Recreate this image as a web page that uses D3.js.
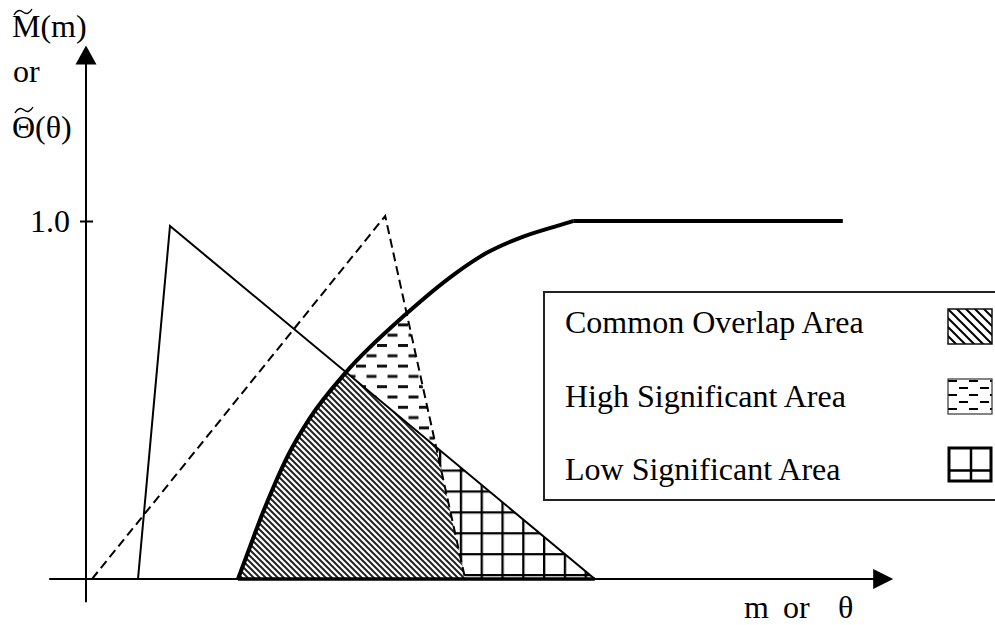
<!DOCTYPE html>
<html>
<head>
<meta charset="utf-8">
<script src="https://cdn.jsdelivr.net/npm/d3@7"></script>
<style>
  html, body { margin: 0; padding: 0; background: #fff; }
  svg { display: block; }
  text { font-family: "Liberation Serif", "Times New Roman", serif; fill: #000; }
</style>
</head>
<body>
<div id="chart"></div>
<script>
// ---------- data ----------
// membership function M~(m): solid triangle
const solidX = [6.5, 10.5, 63.6];
const solidY = [0, 0.986, 0];
// membership function Theta~(theta): dashed triangle
const dashX = [0.75, 37.4, 47.4];
const dashY = [0, 1.014, 0];
// rising thick curve
const curveX = [19.0, 20.5, 21.75, 23.4, 25.25, 28.0, 32.4, 40.0, 45.9, 50.1, 54.25, 58.4, 60.9];
const curveY = [0, 0.09, 0.165, 0.255, 0.345, 0.45, 0.575, 0.74, 0.849, 0.911, 0.953, 0.983, 1.0];
// plateau of thick curve
const plateauX = [60.9, 94.6];
const plateauY = [1.0, 1.0];
// axis ticks
const yTickValues = [1.0];
const yTickLabels = ["1.0"];
// legend
const legendLabels = ["Common Overlap Area", "High Significant Area", "Low Significant Area"];

// ---------- layout ----------
const W = 995, H = 625;
const x = d3.scaleLinear().domain([0, 100]).range([86, 886]);
const y = d3.scaleLinear().domain([0, 1]).range([579, 221]);
const FONT = 32;

const svg = d3.select("#chart").append("svg").attr("width", W).attr("height", H);
const defs = svg.append("defs");

// patterns
const pDiag = defs.append("pattern").attr("id", "diag").attr("patternUnits", "userSpaceOnUse")
  .attr("width", 6).attr("height", 6);
pDiag.append("path").attr("d", "M-1,-1L7,7M-1,5L1,7M5,-1L7,1")
  .attr("stroke", "#222").attr("stroke-width", 2);

const pDiagL = defs.append("pattern").attr("id", "diagL").attr("patternUnits", "userSpaceOnUse")
  .attr("x", 948).attr("y", 309).attr("width", 9).attr("height", 9);
pDiagL.append("path").attr("d", "M-1,-1L10,10M-1,8L1,10M8,-1L10,1")
  .attr("stroke", "#000").attr("stroke-width", 2);

const pDash = defs.append("pattern").attr("id", "dash").attr("patternUnits", "userSpaceOnUse")
  .attr("x", 377).attr("y", 344).attr("width", 21).attr("height", 20.6);
pDash.append("rect").attr("x", 0).attr("y", 0).attr("width", 10).attr("height", 3).attr("fill", "#111");
pDash.append("rect").attr("x", 10.5).attr("y", 10.3).attr("width", 10).attr("height", 3).attr("fill", "#111");

const pDashL = defs.append("pattern").attr("id", "dashL").attr("patternUnits", "userSpaceOnUse")
  .attr("x", 950).attr("y", 387).attr("width", 21).attr("height", 14);
pDashL.append("rect").attr("x", 9).attr("y", 0).attr("width", 9).attr("height", 2).attr("fill", "#000");
pDashL.append("rect").attr("x", -2).attr("y", 7).attr("width", 9).attr("height", 2).attr("fill", "#000");
pDashL.append("rect").attr("x", 19).attr("y", 7).attr("width", 9).attr("height", 2).attr("fill", "#000");

const pGrid = defs.append("pattern").attr("id", "grid").attr("patternUnits", "userSpaceOnUse")
  .attr("x", 439).attr("y", 469.5).attr("width", 20.8).attr("height", 20.9);
pGrid.append("path").attr("d", "M1,0V20.9M0,1H20.8")
  .attr("stroke", "#000").attr("stroke-width", 2.6);

// shapes
const tri = (xs, ys) => d3.line().x((d, i) => x(xs[i])).y((d, i) => y(ys[i]))(xs) + "Z";
const solidPath = tri(solidX, solidY);
const dashPath = tri(dashX, dashY);
const curveLine = d3.line().curve(d3.curveMonotoneX).x((d, i) => x(curveX[i])).y((d, i) => y(curveY[i]));
const curveArea = d3.area().curve(d3.curveMonotoneX).x((d, i) => x(curveX[i])).y0(y(0)).y1((d, i) => y(curveY[i]));
const plateauLine = d3.line().x((d, i) => x(plateauX[i])).y((d, i) => y(plateauY[i]));

// clip paths
const cCurve = defs.append("clipPath").attr("id", "cCurve");
cCurve.append("path").attr("d", curveArea(curveX));
cCurve.append("rect").attr("x", x(plateauX[0]) - 0.5).attr("y", y(1)).attr("width", x(plateauX[1]) - x(plateauX[0]) + 0.5).attr("height", y(0) - y(1));
defs.append("clipPath").attr("id", "cSolid").append("path").attr("d", solidPath);
defs.append("clipPath").attr("id", "cDash").append("path").attr("d", dashPath);
const mNoSolid = defs.append("mask").attr("id", "mNoSolid").attr("maskUnits", "userSpaceOnUse")
  .attr("x", 0).attr("y", 0).attr("width", W).attr("height", H);
mNoSolid.append("rect").attr("width", W).attr("height", H).attr("fill", "#fff");
mNoSolid.append("path").attr("d", solidPath).attr("fill", "#000");
const mNoDash = defs.append("mask").attr("id", "mNoDash").attr("maskUnits", "userSpaceOnUse")
  .attr("x", 0).attr("y", 0).attr("width", W).attr("height", H);
mNoDash.append("rect").attr("width", W).attr("height", H).attr("fill", "#fff");
mNoDash.append("path").attr("d", dashPath).attr("fill", "#000");

// hatched areas
svg.append("g").attr("clip-path", "url(#cCurve)")
  .append("g").attr("clip-path", "url(#cSolid)")
  .append("rect").attr("clip-path", "url(#cDash)").attr("width", W).attr("height", H).attr("fill", "url(#diag)");
svg.append("g").attr("clip-path", "url(#cCurve)")
  .append("g").attr("clip-path", "url(#cDash)")
  .append("rect").attr("mask", "url(#mNoSolid)").attr("width", W).attr("height", H).attr("fill", "url(#dash)");
svg.append("g").attr("clip-path", "url(#cSolid)")
  .append("g").attr("clip-path", "url(#cCurve)")
  .append("rect").attr("mask", "url(#mNoDash)").attr("width", W).attr("height", H).attr("fill", "url(#grid)");

// axes
const xAxisStart = -4.6, xAxisTip = 100.9;
const yAxisBottom = -0.065, yAxisTip = 1.49;
svg.append("line").attr("x1", x(xAxisStart)).attr("x2", x(xAxisTip) - 18).attr("y1", y(0)).attr("y2", y(0))
  .attr("stroke", "#000").attr("stroke-width", 2);
svg.append("path").attr("d", `M${x(xAxisTip)},${y(0)}L${x(xAxisTip) - 20},${y(0) - 10}L${x(xAxisTip) - 20},${y(0) + 10}Z`).attr("fill", "#000");
svg.append("line").attr("x1", x(0)).attr("x2", x(0)).attr("y1", y(yAxisBottom)).attr("y2", y(yAxisTip) + 18)
  .attr("stroke", "#000").attr("stroke-width", 2);
svg.append("path").attr("d", `M${x(0)},${y(yAxisTip)}L${x(0) - 10.5},${y(yAxisTip) + 19}L${x(0) + 10.5},${y(yAxisTip) + 19}Z`).attr("fill", "#000");

const yAxis = d3.axisLeft(y).tickValues(yTickValues).tickSize(6).tickPadding(10)
  .tickFormat((d, i) => yTickLabels[i]);
const gy = svg.append("g").attr("transform", `translate(${x(0)},0)`).call(yAxis);
gy.select(".domain").remove();
gy.selectAll(".tick line").attr("stroke", "#000").attr("stroke-width", 2).attr("x2", 7).attr("x1", -6);
gy.selectAll(".tick text").attr("font-family", "Liberation Serif, Times New Roman, serif").attr("font-size", FONT).attr("fill", "#000");

// thick base under the regions
svg.append("line").attr("x1", x(curveX[0])).attr("x2", x(solidX[2])).attr("y1", y(0)).attr("y2", y(0))
  .attr("stroke", "#000").attr("stroke-width", 3.5);

// triangles
svg.append("path").attr("d", solidPath).attr("fill", "none").attr("stroke", "#000").attr("stroke-width", 2).attr("stroke-linejoin", "miter");
svg.append("path").attr("d", dashPath).attr("fill", "none").attr("stroke", "#000").attr("stroke-width", 2).attr("stroke-dasharray", "9,5");

// thick curve
svg.append("path").attr("d", curveLine(curveX)).attr("fill", "none").attr("stroke", "#000").attr("stroke-width", 4);
svg.append("path").attr("d", plateauLine(plateauX)).attr("fill", "none").attr("stroke", "#000").attr("stroke-width", 4);

// axis titles
svg.append("text").attr("x", 12).attr("y", 37).attr("font-size", FONT).text("M(m)");
svg.append("path").attr("d", "M14,15 Q18,8 23,12 T32,9").attr("fill", "none").attr("stroke", "#000").attr("stroke-width", 1.4);
svg.append("text").attr("x", 13).attr("y", 82).attr("font-size", FONT).text("or");
svg.append("text").attr("x", 12).attr("y", 138).attr("font-size", FONT).text("Θ(θ)");
svg.append("path").attr("d", "M15,113 Q19,106 24,110 T33,107").attr("fill", "none").attr("stroke", "#000").attr("stroke-width", 1.4);
const xt = svg.append("text").attr("y", 618).attr("font-size", FONT);
xt.append("tspan").attr("x", 744).text("m");
xt.append("tspan").attr("x", 783).text("or");
xt.append("tspan").attr("x", 838).text("θ");

// legend
svg.append("rect").attr("x", 544).attr("y", 292).attr("width", 470).attr("height", 208)
  .attr("fill", "#fff").attr("stroke", "#222").attr("stroke-width", 2);
const legendY = [333, 407, 480];
legendLabels.forEach((lab, i) => {
  svg.append("text").attr("x", 565).attr("y", legendY[i]).attr("font-size", FONT).text(lab);
});
svg.append("rect").attr("x", 948).attr("y", 309).attr("width", 44).attr("height", 35)
  .attr("fill", "url(#diagL)").attr("stroke", "#111").attr("stroke-width", 1.5);
svg.append("rect").attr("x", 948).attr("y", 379).attr("width", 44).attr("height", 35)
  .attr("fill", "url(#dashL)").attr("stroke", "#333").attr("stroke-width", 1.2);
svg.append("rect").attr("x", 949).attr("y", 448).attr("width", 42).attr("height", 33)
  .attr("fill", "#fff").attr("stroke", "#000").attr("stroke-width", 3);
svg.append("line").attr("x1", 971).attr("x2", 971).attr("y1", 448).attr("y2", 481).attr("stroke", "#000").attr("stroke-width", 2.5);
svg.append("line").attr("x1", 949).attr("x2", 991).attr("y1", 470.5).attr("y2", 470.5).attr("stroke", "#000").attr("stroke-width", 2.5);
</script>
</body>
</html>
